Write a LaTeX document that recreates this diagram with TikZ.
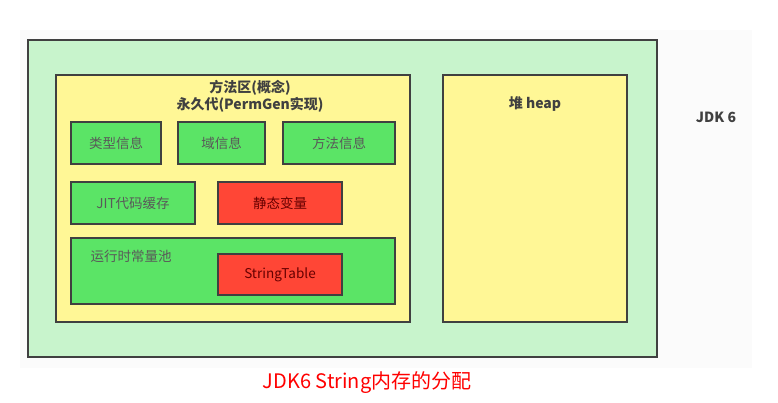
\documentclass[tikz,border=0pt]{standalone}
\usepackage{fontspec}
\setmainfont{Noto Sans CJK SC}
\newfontfamily\cjk{Noto Sans CJK SC}
\begin{document}
\begin{tikzpicture}[x=1pt,y=-1pt,
  box/.style={draw=black!75,line width=1.6pt},
  gbox/.style={box,fill=boxgreen},
  rbox/.style={box,fill=boxred},
  lbl/.style={font=\fontsize{13.5}{15}\selectfont,text=black!65},
]
\definecolor{outergreen}{HTML}{C8F4CC}
\definecolor{areayellow}{HTML}{FFF796}
\definecolor{boxgreen}{HTML}{5BE466}
\definecolor{boxred}{HTML}{FF4636}
\useasboundingbox (0,0) rectangle (778,403);
\fill[white] (0,0) rectangle (778,403);
\fill[black!1.5] (20,30) rectangle (752,368);
% outer
\draw[box,fill=outergreen] (28,40) rectangle (657,357);
% method area
\draw[box,fill=areayellow] (56,75) rectangle (410,322);
\node[font=\bfseries\fontsize{14}{17}\selectfont,text=black!75,align=center] (title) at (250,96) {方法区(概念)\\永久代(PermGen实现)};
% heap
\draw[box,fill=areayellow] (443,75) rectangle (627,322);
\node[font=\bfseries\fontsize{14}{16}\selectfont,text=black!75] (heap) at (535,104) {堆 heap};
\node[font=\bfseries\fontsize{14}{16}\selectfont,text=black!75] (jdk) at (716,117) {JDK 6};
% row 1
\draw[gbox] (71,122) rectangle (161,164) node[lbl,midway] (a) {类型信息};
\draw[gbox] (178,122) rectangle (265,164) node[lbl,midway] (b) {域信息};
\draw[gbox] (283,122) rectangle (395,164) node[lbl,midway] (c) {方法信息};
% row 2
\draw[gbox] (71,182) rectangle (195,224) node[lbl,midway] (d) {JIT代码缓存};
\draw[rbox] (218,182) rectangle (342,224) node[lbl,midway,text=black!60!red] (e) {静态变量};
% runtime pool
\draw[gbox] (71,238) rectangle (395,304);
\node[lbl,anchor=west] (pool) at (87,256) {运行时常量池};
\draw[rbox] (218,254) rectangle (342,295) node[lbl,midway,text=black!60!red] (st) {StringTable};
% caption
\node[font=\fontsize{20}{22}\selectfont,text=red] (cap) at (367,383) {JDK6 String内存的分配};
\end{tikzpicture}
\end{document}
